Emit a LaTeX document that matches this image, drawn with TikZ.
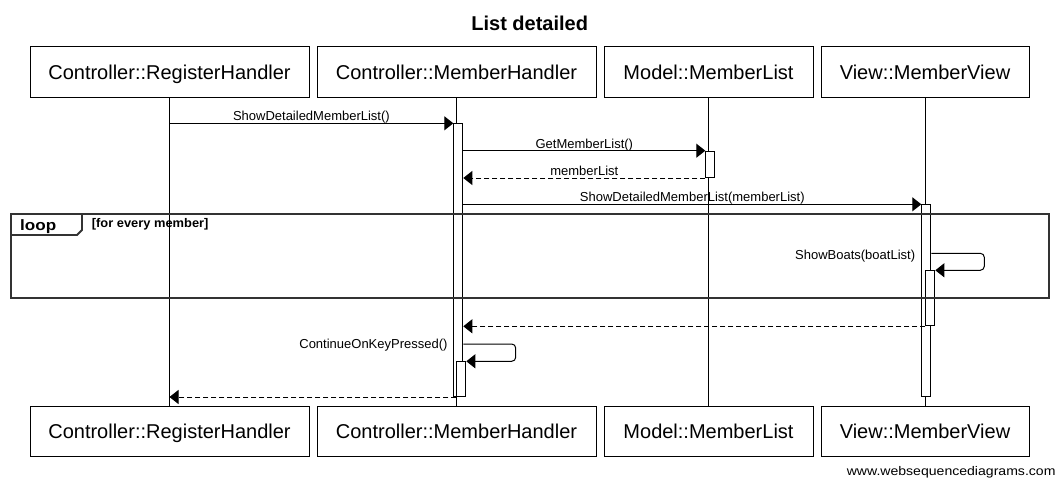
\documentclass[tikz,border=0pt]{standalone}
\usepackage{fontspec}
\setmainfont{Liberation Sans}
\usepackage{graphicx}
\usetikzlibrary{arrows.meta,calc}
\tikzset{
  part/.style={draw, line width=1pt, minimum height=51pt, inner sep=0pt,
    text height=14.3pt, text depth=0pt, font=\fontsize{20}{24}\selectfont},
  act/.style={draw, fill=white, line width=1pt, minimum width=9pt, inner sep=0pt, anchor=north west},
  msg/.style={line width=1pt, -{Triangle[length=9pt,width=14pt]}},
  ret/.style={msg, dash pattern=on 5pt off 3pt},
  lbl/.style={font=\fontsize{13}{15}\selectfont, inner sep=0pt},
  mlbl/.style={lbl, midway, anchor=base, yshift=2.5pt},
  frame/.style={line width=1.8pt, black!80},
  life/.style={line width=1pt},
}
\begin{document}
\begin{tikzpicture}[x=1pt,y=-1pt]
\path[use as bounding box, fill=white] (0,0) rectangle (1057,479);
\node[font=\bfseries\fontsize{20}{24}\selectfont, anchor=base, inner sep=0pt] (title) at (529.7,30.7) {List detailed};
% participants top
\node[part, minimum width=279pt] (t1) at (169.5,72.3) {Controller::RegisterHandler};
\node[part, minimum width=279pt] (t2) at (456.5,72.3) {Controller::MemberHandler};
\node[part, minimum width=209pt] (t3) at (708.5,72.3) {Model::MemberList};
\node[part, minimum width=208pt] (t4) at (925,72.3) {View::MemberView};
% participants bottom
\node[part, minimum width=279pt, minimum height=49.5pt] (b1) at (169.5,431.3) {Controller::RegisterHandler};
\node[part, minimum width=279pt, minimum height=49.5pt] (b2) at (456.5,431.3) {Controller::MemberHandler};
\node[part, minimum width=209pt, minimum height=49.5pt] (b3) at (708.5,431.3) {Model::MemberList};
\node[part, minimum width=208pt, minimum height=49.5pt] (b4) at (925,431.3) {View::MemberView};
% lifelines
\draw[life] (t1) -- (b1);
\draw[life] (t2) -- (b2);
\draw[life] (t3) -- (b3);
\draw[life] (t4) -- (b4);
% activations
\node[act, minimum height=272.7pt] (a2) at (453.3,123.3) {};
\node[act, minimum height=26.3pt] (a3) at (705.3,150.7) {};
\node[act, minimum height=192pt] (a4) at (921.3,204.3) {};
\node[act, minimum height=55pt] (a4b) at (925.3,270.3) {};
\node[act, minimum height=34.7pt] (a2b) at (456.3,361.3) {};
% messages
\draw[msg] (t1 |- a2.north west) -- (a2.north west) node[mlbl] {ShowDetailedMemberList()};
\draw[msg] (a2.east |- a3.north west) -- (a3.north west) node[mlbl] {GetMemberList()};
\draw[ret] (a3.south west) -- (a2.east |- a3.south west) node[mlbl] {memberList};
\draw[msg] (a2.east |- a4.north west) -- (a4.north west) node[mlbl] {ShowDetailedMemberList(memberList)};
\coordinate (sb1) at (984.3,253.3);
\coordinate (sb2) at (984.3,270.3);
\draw[msg, rounded corners=4pt] (a4.east |- sb1) -- (sb1) -- (sb2) -- (a4b.north east);
\node[lbl, anchor=base east] (sbl) at (915.3,259.5) {ShowBoats(boatList)};
\draw[ret] (a4b.south west) -- (a2.east |- a4b.south west);
\coordinate (ck1) at (515.7,344);
\coordinate (ck2) at (515.7,361.3);
\draw[msg, rounded corners=4pt] (a2.east |- ck1) -- (ck1) -- (ck2) -- (a2b.north east);
\node[lbl, anchor=base east] (ckl) at (447.7,348.7) {ContinueOnKeyPressed()};
\draw[ret] (a2b.south west) -- (t1 |- a2b.south west);
% loop frame
\draw[frame] (11,214) rectangle (1049,298.3);
\draw[frame] (11,235) -- (77,235) -- (82,230) -- (82,214);
\node[anchor=base west, inner sep=0pt, font=\bfseries\fontsize{15}{18}\selectfont] (loopl) at (20,230) {\scalebox{1.14}[1]{loop}};
\node[anchor=base west, inner sep=0pt, font=\bfseries\fontsize{12.5}{15}\selectfont] (guard) at (91.7,227.5) {\scalebox{1.03}[1]{[for every member]}};
% watermark
\node[anchor=base east, inner sep=0pt, font=\fontsize{12.5}{14}\selectfont] (wm) at (1055.7,475) {\scalebox{1.125}[1]{www.websequencediagrams.com}};
\end{tikzpicture}
\end{document}
